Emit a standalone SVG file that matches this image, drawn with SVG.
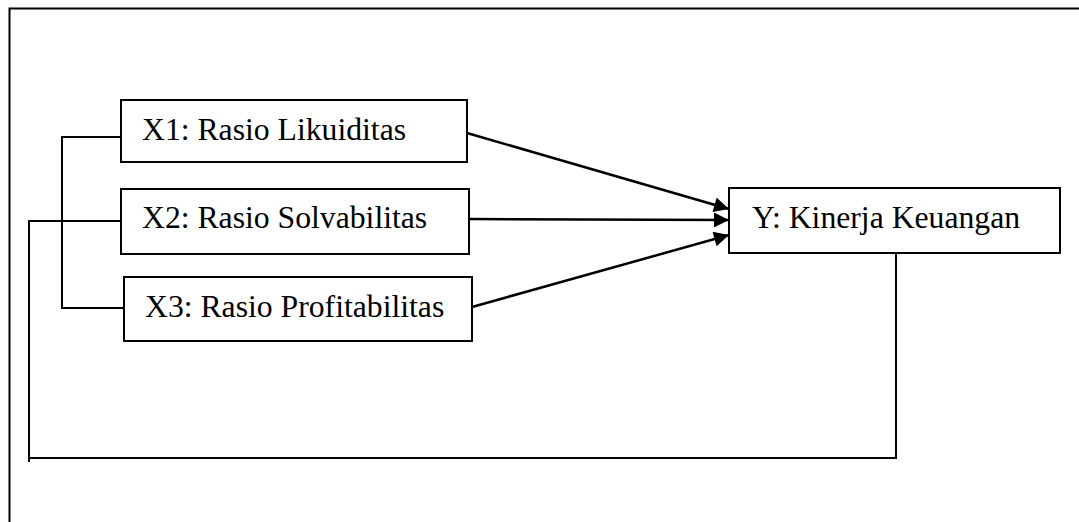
<svg xmlns="http://www.w3.org/2000/svg" width="1079" height="522" viewBox="0 0 1079 522">
<style>
.box{fill:#fff;stroke:#000;stroke-width:2}
.lbl{font-family:"Liberation Serif","Times New Roman",serif;font-size:31.7px;fill:#000}
.ln{fill:none;stroke:#000;stroke-width:2}
.ar{fill:none;stroke:#000;stroke-width:2.5}
</style>
<defs>
<marker id="ah" viewBox="0 0 10 10" refX="10" refY="5" markerWidth="6.5" markerHeight="6" markerUnits="strokeWidth" orient="auto">
<path d="M0,0 L10,5 L0,10 z" fill="#000"/>
</marker>
</defs>
<rect width="1079" height="522" fill="#fff"/>
<path class="ln" d="M9.5,522 V8.5 H1079" stroke-width="2.5"/>
<g id="connectors">
<path class="ln" d="M29,462 V221 H124"/>
<path class="ln" d="M29,458 H896 V254"/>
<path class="ln" d="M121,137 H62 V308 H128"/>
<line class="ar" x1="467" y1="133" x2="729" y2="209" marker-end="url(#ah)"/>
<line class="ar" x1="469" y1="219" x2="729" y2="220" marker-end="url(#ah)"/>
<line class="ar" x1="472" y1="307" x2="729" y2="235" marker-end="url(#ah)"/>
</g>
<g id="x1">
<rect class="box" x="121" y="100" width="346" height="62"/>
<text class="lbl" x="142" y="140">X1: Rasio Likuiditas</text>
</g>
<g id="x2">
<rect class="box" x="121" y="189" width="348" height="65"/>
<text class="lbl" x="142" y="228">X2: Rasio Solvabilitas</text>
</g>
<g id="x3">
<rect class="box" x="124" y="277" width="348" height="64"/>
<text class="lbl" x="145" y="317">X3: Rasio Profitabilitas</text>
</g>
<g id="y">
<rect class="box" x="729" y="188" width="331" height="65"/>
<text class="lbl" x="752" y="228">Y: Kinerja Keuangan</text>
</g>
</svg>
